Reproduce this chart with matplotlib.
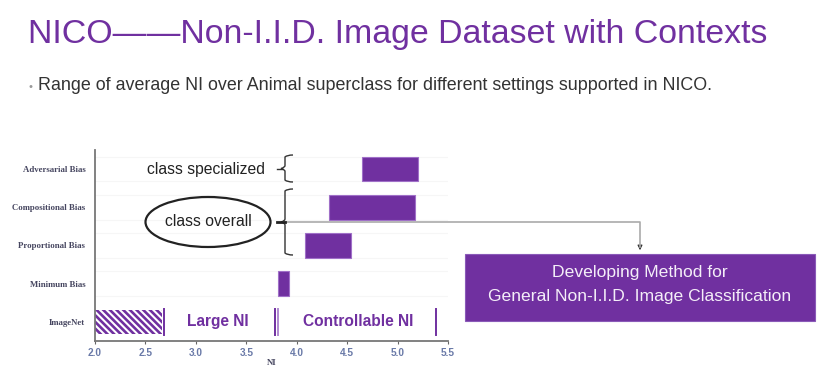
import matplotlib
matplotlib.use("Agg")
import matplotlib.pyplot as plt
from matplotlib.patches import Ellipse, Rectangle, FancyArrowPatch
from matplotlib.path import Path
from matplotlib.patches import PathPatch

# data
settings = ["ImageNet", "Minimum Bias", "Proportional Bias", "Compositional Bias", "Adversarial Bias"]
ni_low = [2.0, 3.81, 4.08, 4.32, 4.65]
ni_high = [2.66, 3.92, 4.54, 5.17, 5.20]
x_ticks = [2.0, 2.5, 3.0, 3.5, 4.0, 4.5, 5.0, 5.5]
divider_ni = [2.68, 3.78, 3.81, 5.38]
region_labels = ["Large NI", "Controllable NI"]
region_centers = [3.22, 4.61]

PURPLE = "#7030a0"
W, H = 825, 372
plt.rcParams["hatch.linewidth"] = 1.9


def px(x, y):
    return (x / W, 1 - y / H)


fig = plt.figure(figsize=(W / 100, H / 100), dpi=100)

# title + bullet line
fig.text(*px(28, 35), "NICO——Non-I.I.D. Image Dataset with Contexts", color=PURPLE,
         fontsize=24.4, family="Liberation Sans", va="center", ha="left")
fig.text(*px(29, 87), "•", color="#9a9a9a", fontsize=8, va="center", ha="left",
         family="Liberation Sans")
fig.text(*px(38, 86), "Range of average NI over Animal superclass for different settings supported in NICO.",
         color="#333333", fontsize=12.9, va="center", ha="left", family="Liberation Sans")

# main axes
ax = fig.add_axes([95 / W, 1 - 341 / H, (448 - 95) / W, (341 - 150) / H])
ypos = list(range(len(settings)))
bar_h = 0.64
for i, (lo, hi) in enumerate(zip(ni_low, ni_high)):
    if settings[i] == "ImageNet":
        ax.barh(i, hi - lo, left=lo, height=bar_h, color="white", edgecolor=PURPLE,
                hatch="\\" * 5, linewidth=0)
    else:
        ax.barh(i, hi - lo, left=lo, height=bar_h, color=PURPLE, edgecolor="#a070c8",
                linewidth=0.8)
    if i > 0:
        for yy in (i - bar_h / 2, i + bar_h / 2):
            ax.axhline(yy, color="#f6f6f6", linewidth=0.8, zorder=0)

for k, xv in enumerate(divider_ni):
    ax.plot([xv, xv], [-0.33, 0.33], color=PURPLE if k != 2 else "#b08ad0", linewidth=1.4)
for lab, xc in zip(region_labels, region_centers):
    ax.text(xc, 0, lab, color=PURPLE, fontsize=11.2, fontweight="bold",
            family="Liberation Sans", ha="center", va="center")

ax.set_xlim(2.0, 5.5)
ax.set_ylim(-0.5, len(settings) - 0.5)
ax.set_yticks(ypos)
ax.set_yticklabels(settings, family="Liberation Serif", fontweight="bold", fontsize=6.3,
                   color="#464660")
ax.set_xticks(x_ticks)
ax.set_xticklabels([f"{v:.1f}" for v in x_ticks], family="Liberation Sans",
                   fontweight="bold", fontsize=7.3, color="#6a7aa8")
ax.tick_params(axis="y", length=0, pad=7)
ax.tick_params(axis="x", length=2, width=0.8, color="#666666", pad=3)
ax.set_xlabel("NI", family="Liberation Serif", fontweight="bold", fontsize=6.3,
              color="#464660", labelpad=1)
for s in ("top", "right"):
    ax.spines[s].set_visible(False)
for s in ("left", "bottom"):
    ax.spines[s].set_color("#777777")
    ax.spines[s].set_linewidth(1.3)

# annotations: braces, ellipse, arrow, box
def brace(x, y0, y1, lw=1.0):
    ym = (y0 + y1) / 2
    pts = [px(x + 8, y0), px(x + 2, y0), px(x, y0 + 2), px(x, ym - 3), px(x, ym - 1),
           px(x - 4, ym), px(x, ym + 1), px(x, ym + 3), px(x, y1 - 2), px(x + 2, y1),
           px(x + 8, y1)]
    codes = [Path.MOVETO, Path.CURVE3, Path.CURVE3, Path.LINETO, Path.CURVE3, Path.CURVE3,
             Path.CURVE3, Path.CURVE3, Path.LINETO, Path.CURVE3, Path.CURVE3]
    fig.patches.append(PathPatch(Path(pts, codes), fill=False, lw=lw, edgecolor="#333333",
                                 transform=fig.transFigure))


brace(285, 155, 182)
brace(285, 189, 255)
fig.add_artist(plt.Line2D(*zip(px(277, 169), px(282, 169)), color="#333333", lw=1.0,
                          transform=fig.transFigure))
fig.text(*px(206, 169), "class specialized", fontsize=11.3, family="Liberation Sans",
         color="#222222", ha="center", va="center")

fig.patches.append(Ellipse(px(208, 222), 125 / W, 50 / H, fill=False, lw=1.6,
                           edgecolor="#222222", transform=fig.transFigure))
fig.text(*px(208, 222), "class overall", fontsize=11.3, family="Liberation Sans",
         color="#222222", ha="center", va="center")

fig.add_artist(plt.Line2D(*zip(px(284, 222), px(640, 222), px(640, 247)), color="#aaaaaa",
                          lw=1.2, transform=fig.transFigure))
fig.add_artist(plt.Line2D(*zip(px(277, 222), px(285, 222)), color="#222222", lw=2.0,
                          transform=fig.transFigure))
fig.patches.append(FancyArrowPatch(px(640, 244), px(640, 253), arrowstyle="-|>",
                                   mutation_scale=7, color="#333333", lw=0.8,
                                   transform=fig.transFigure))

bx0, by0 = px(465, 321)
fig.patches.append(Rectangle((bx0, by0), 350 / W, 67 / H, facecolor=PURPLE,
                             edgecolor="#8a5ab8", lw=0.8, transform=fig.transFigure))
fig.text(*px(640, 272), "Developing Method for", fontsize=12.6, family="Liberation Sans",
         color="#f4eef8", ha="center", va="center")
fig.text(*px(640, 297), "General Non-I.I.D. Image Classification", fontsize=12.6,
         family="Liberation Sans", color="#f4eef8", ha="center", va="center")

fig.savefig("out.png", dpi=100)
